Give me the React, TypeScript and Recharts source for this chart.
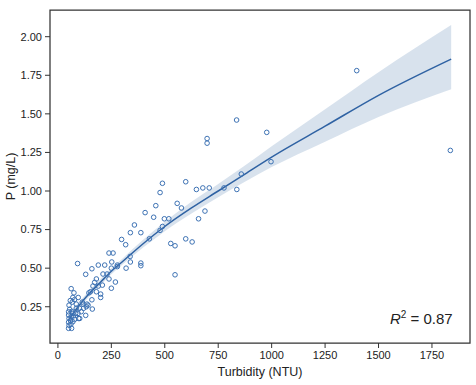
import React from "react";
import {
  ComposedChart,
  Scatter,
  Line,
  Area,
  XAxis,
  YAxis,
  ReferenceArea,
} from "recharts";

const turbidity = [
  1398, 1836, 836, 977, 698, 698, 997, 858, 598, 489, 478, 648, 678, 708, 777, 837,
  458, 558, 578, 688, 408, 448, 498, 519, 658, 489, 478, 358, 339, 388, 298, 428,
  598, 628, 528, 548, 317, 239, 258, 338, 339, 252, 388, 388, 92, 189, 219, 159,
  250, 278, 278, 319, 548, 130, 211, 230, 239, 180, 269, 208, 164, 189, 172, 250,
  180, 152, 200, 200, 159, 161, 136, 117, 130, 97, 62, 75, 95, 70, 67, 52,
  86, 55, 50, 62, 50, 52, 50, 64, 59, 78, 70, 83, 109, 101, 114, 141,
  58, 78, 86, 61, 70, 52, 50, 94, 102, 120, 133, 65, 72, 145,
];
const phosphorus = [
  1.78, 1.263, 1.46, 1.38, 1.34, 1.31, 1.19, 1.11, 1.06, 1.05, 0.99, 1.01, 1.02, 1.02, 1.02, 1.01,
  0.905, 0.92, 0.89, 0.87, 0.86, 0.83, 0.82, 0.82, 0.82, 0.77, 0.745, 0.78, 0.73, 0.73, 0.686, 0.69,
  0.69, 0.67, 0.66, 0.645, 0.652, 0.598, 0.598, 0.576, 0.54, 0.54, 0.533, 0.516, 0.53, 0.52, 0.52, 0.496,
  0.5, 0.51, 0.52, 0.5, 0.457, 0.46, 0.462, 0.462, 0.43, 0.43, 0.41, 0.39, 0.384, 0.384, 0.408, 0.37,
  0.347, 0.347, 0.332, 0.31, 0.295, 0.235, 0.267, 0.267, 0.194, 0.174, 0.367, 0.34, 0.31, 0.31, 0.28, 0.26,
  0.24, 0.233, 0.196, 0.185, 0.15, 0.13, 0.11, 0.11, 0.16, 0.168, 0.207, 0.207, 0.218, 0.24, 0.28, 0.26,
  0.29, 0.296, 0.267, 0.138, 0.153, 0.174, 0.217, 0.207, 0.174, 0.24, 0.25, 0.22, 0.19, 0.34,
];

// fitted curve and its confidence band
const fitX = [50, 100, 150, 200, 250, 300, 400, 500, 625, 750, 875, 1000, 1250, 1500, 1840];
const fitY = [0.165, 0.26, 0.34, 0.41, 0.48, 0.54, 0.66, 0.77, 0.89, 1.0, 1.11, 1.22, 1.42, 1.62, 1.855];
const fitLow = [0.13, 0.24, 0.32, 0.39, 0.46, 0.52, 0.635, 0.74, 0.855, 0.96, 1.06, 1.155, 1.32, 1.48, 1.66];
const fitHigh = [0.2, 0.28, 0.36, 0.43, 0.5, 0.56, 0.685, 0.8, 0.93, 1.045, 1.165, 1.29, 1.53, 1.77, 2.075];

const xTicks = [0, 250, 500, 750, 1000, 1250, 1500, 1750];
const yTicks = [0.25, 0.5, 0.75, 1.0, 1.25, 1.5, 1.75, 2.0];
const xDomain = [-37, 1928];
const yDomain = [0.015, 2.173];

const points = turbidity.map((x, i) => ({ x, y: phosphorus[i] }));
const fit = fitX.map((x, i) => ({ x, y: fitY[i], band: [fitLow[i], fitHigh[i]] }));

const font = "'Liberation Sans', Arial, sans-serif";
const tickStyle = { fill: "#222", fontSize: 11, fontFamily: font };
const labelStyle = { fill: "#222", fontSize: 12.5, fontFamily: font };

const OpenDot = (props: any) => {
  const { cx, cy } = props;
  if (cx == null || cy == null) return null;
  return <circle cx={cx} cy={cy} r={2.3} fill="none" stroke="#3d72b4" strokeWidth={1} />;
};

export default function App() {
  return (
    <div style={{ position: "absolute", left: 0, top: 0, width: 476, height: 385, background: "#fff" }}>
      <ComposedChart width={476} height={385} margin={{ top: 10, right: 6, bottom: 0, left: 0 }}>
        <XAxis
          dataKey="x"
          type="number"
          domain={xDomain}
          ticks={xTicks}
          allowDataOverflow
          tick={tickStyle}
          tickSize={5}
          tickMargin={3}
          tickLine={{ stroke: "#333" }}
          axisLine={false}
          height={42}
          label={{ value: "Turbidity (NTU)", position: "insideBottom", offset: 9, style: labelStyle }}
        />
        <YAxis
          type="number"
          domain={yDomain}
          ticks={yTicks}
          allowDataOverflow
          tickFormatter={(v) => Number(v).toFixed(2)}
          tick={tickStyle}
          tickSize={5}
          tickMargin={3}
          tickLine={{ stroke: "#333" }}
          axisLine={false}
          width={50}
          label={{
            value: "P (mg/L)",
            angle: -90,
            position: "insideLeft",
            offset: 11,
            style: { ...labelStyle, textAnchor: "middle" },
          }}
        />
        <Scatter data={points} dataKey="y" shape={OpenDot} isAnimationActive={false} />
        <Area
          data={fit}
          dataKey="band"
          type="monotone"
          stroke="none"
          fill="#3a6ea5"
          fillOpacity={0.2}
          isAnimationActive={false}
        />
        <Line
          data={fit}
          dataKey="y"
          type="monotone"
          stroke="#2f62a3"
          strokeWidth={1.5}
          dot={false}
          isAnimationActive={false}
        />
        <ReferenceArea
          x1={xDomain[0]}
          x2={xDomain[1]}
          y1={yDomain[0]}
          y2={yDomain[1]}
          fill="none"
          stroke="#333"
          strokeWidth={1.25}
        />
      </ComposedChart>
      <div
        style={{
          position: "absolute",
          left: 390,
          top: 309,
          fontFamily: font,
          fontSize: 15,
          color: "#222",
          whiteSpace: "nowrap",
        }}
      >
        <i>R</i>
        <sup style={{ fontSize: 10 }}>2</sup> = 0.87
      </div>
    </div>
  );
}
